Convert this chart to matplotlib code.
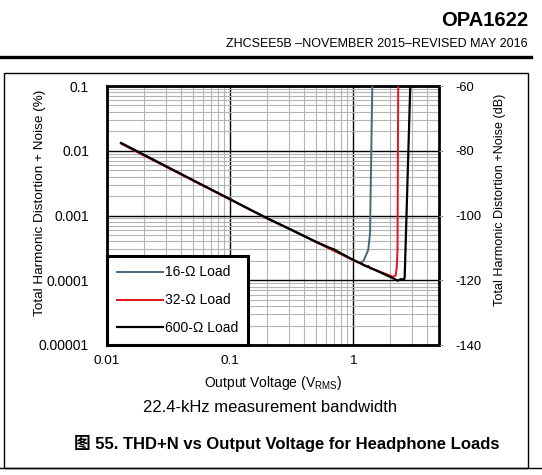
import numpy as np
import matplotlib
matplotlib.use("Agg")
from matplotlib import pyplot as plt
from matplotlib.lines import Line2D
from matplotlib.patches import Rectangle
from matplotlib.ticker import LogLocator, NullFormatter

plt.rcParams['font.family'] = ['Liberation Sans', 'Noto Sans CJK SC', 'DejaVu Sans']
plt.rcParams['axes.unicode_minus'] = False

# 16-ohm load
v16 = [0.013, 0.02, 0.05, 0.1, 0.2, 0.5, 1.0, 1.14, 1.22, 1.33, 1.375, 1.4, 1.435]
thd16 = [0.0132, 0.0086, 0.0035, 0.00178, 0.0009, 0.00039, 0.000206, 0.000184,
         0.0002, 0.000295, 0.00053, 0.005, 0.1]

# 32-ohm load
v32 = [0.013, 0.02, 0.03, 0.05, 0.1, 0.2, 0.3, 0.5, 1.0, 1.5, 2.0, 2.11, 2.22, 2.27, 2.3, 2.33]
thd32 = [0.0129, 0.0084, 0.0057, 0.00345, 0.00177, 0.0009, 0.00063, 0.00039, 0.000205,
         0.000146, 0.000118, 0.000113, 0.000118, 0.00016, 0.0003, 0.1]

# 600-ohm load
v600 = [0.013, 0.02, 0.03, 0.05, 0.07, 0.1, 0.15, 0.2, 0.3, 0.5, 0.65, 0.7, 0.75, 1.0,
        1.14, 1.3, 1.33, 1.37, 1.5, 2.0, 2.19, 2.3, 2.45, 2.6, 2.63, 2.92]
thd600 = [0.0132, 0.00865, 0.0058, 0.00352, 0.00253, 0.00179, 0.0012, 0.00091, 0.00063,
          0.000393, 0.000315, 0.0003, 0.000278, 0.000207, 0.000184, 0.000162, 0.000165,
          0.000155, 0.000145, 0.000113, 0.000104, 0.0000985, 0.000104, 0.000103, 0.00011, 0.1]

ytick_vals = [0.1, 0.01, 0.001, 0.0001, 0.00001]
ytick_labels = ['0.1', '0.01', '0.001', '0.0001', '0.00001']
xtick_vals = [0.01, 0.1, 1]
xtick_labels = ['0.01', '0.1', '1']
db_ticks = [-60, -80, -100, -120, -140]

W, H = 542, 475
fig = plt.figure(figsize=(W / 100, H / 100), dpi=100)

# page decorations
fig.text(528 / W, 1 - 20 / H, 'OPA1622', ha='right', va='center', fontsize=14.5, fontweight='bold')
fig.text(528 / W, 1 - 44 / H, 'ZHCSEE5B \u2013NOVEMBER 2015\u2013REVISED MAY 2016',
         ha='right', va='center', fontsize=9)
fig.add_artist(Line2D([0, 531 / W], [1 - 57 / H] * 2, lw=2.4, color='black'))
fig.add_artist(Rectangle((4 / W, 1 - 468 / H), 524 / W, 395 / H, fill=False, lw=1.0, ec='black'))
fig.add_artist(Line2D([0, 1], [1 - 468 / H] * 2, lw=1.0, color='black'))

ax = fig.add_axes([107 / W, 1 - 345 / H, 332 / W, 259 / H])
ax.set_xscale('log')
ax.set_yscale('log')
ax.set_xlim(0.01, 5)
ax.set_ylim(0.00001, 0.1)

ax.plot(v16, thd16, color='#46697a', lw=1.4, label='16-\u03a9 Load', zorder=3)
ax.plot(v32, thd32, color='#e3141c', lw=1.4, label='32-\u03a9 Load', zorder=4)
ax.plot(v600, thd600, color='black', lw=1.6, label='600-\u03a9 Load', zorder=5)

ax.set_xticks(xtick_vals, xtick_labels)
ax.set_yticks(ytick_vals, ytick_labels)
ax.xaxis.set_minor_locator(LogLocator(base=10, subs=np.arange(2, 10)))
ax.yaxis.set_minor_locator(LogLocator(base=10, subs=np.arange(2, 10)))
ax.xaxis.set_minor_formatter(NullFormatter())
ax.yaxis.set_minor_formatter(NullFormatter())
ax.tick_params(which='both', length=0)
ax.tick_params(axis='y', pad=13, labelsize=10)
ax.tick_params(axis='x', pad=7, labelsize=9.7)
ax.grid(which='minor', color='#b4b4b4', lw=0.8)
ax.grid(which='major', color='black', lw=1.0)
ax.set_axisbelow(True)
for s in ax.spines.values():
    s.set_linewidth(2.0)

leg = ax.legend(loc='lower left', bbox_to_anchor=(0, 0), borderaxespad=0, fancybox=False,
                edgecolor='black', framealpha=1, fontsize=10, handlelength=3.3,
                borderpad=0.7, labelspacing=1.0, handletextpad=0.2)
leg.get_frame().set_linewidth(2.2)
leg.set_zorder(10)

ax2 = ax.twinx()
ax2.set_ylim(-140, -60)
ax2.set_yticks(db_ticks)
ax2.tick_params(length=3, color='#999999', labelsize=9.3, pad=9)
for s in ax2.spines.values():
    s.set_visible(False)

fig.text(40 / W, 1 - 203 / H, 'Total Harmonic Distortion + Noise (%)', rotation=90,
         ha='center', va='center', fontsize=9.7)
fig.text(500 / W, 1 - 200 / H, 'Total Harmonic Distortion +Noise (dB)', rotation=90,
         ha='center', va='center', fontsize=9.1)
fig.text(273 / W, 1 - 383 / H, 'Output Voltage (V$_{\\mathregular{RMS}}$)',
         ha='center', va='center', fontsize=10)
fig.text(270 / W, 1 - 408 / H, '22.4-kHz measurement bandwidth',
         ha='center', va='center', fontsize=12)
fig.text(287 / W, 1 - 443 / H, '\u56fe 55. THD+N vs Output Voltage for Headphone Loads',
         ha='center', va='center', fontsize=12, fontweight='bold')

fig.savefig('out.png', dpi=100)
